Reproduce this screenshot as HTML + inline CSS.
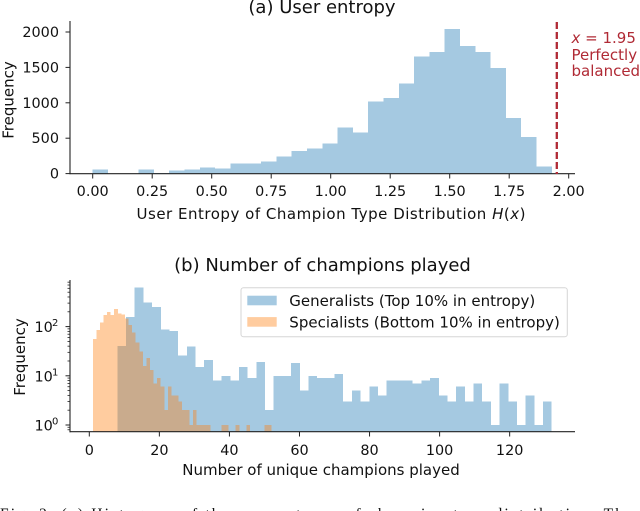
<!DOCTYPE html>
<html lang="en">
<head>
<meta charset="utf-8">
<title>Entropy histograms</title>
<style>
  html, body { margin: 0; padding: 0; background: #fff; }
  body { width: 640px; height: 511px; overflow: hidden; }
  svg { display: block; }
  text { font-family: "DejaVu Sans", "Liberation Sans", sans-serif; fill: #111; }
</style>
</head>
<body>
<svg id="figure" xmlns="http://www.w3.org/2000/svg" width="640" height="511" viewBox="0 0 640 511">
  <g id="panel-a"></g>
  <g id="panel-b"></g>
  <text x="0" y="519" textLength="632" lengthAdjust="spacing" style="font-family:'Liberation Serif',serif;font-size:15.5px;">Fig. 2: (a) Histogram of the user entropy of champion type distribution. The</text>
</svg>
<script>
// Panel (a) data
const entropyBinStart = 0;
const entropyBinWidth = 0.0643;
const entropyCounts = [60, 0, 0, 60, 5, 47, 60, 85, 75, 141, 146, 170, 245, 320, 353, 428, 650, 579, 1021, 1069, 1276, 1652, 1714, 2039, 1799, 1719, 1488, 786, 518, 99];
const entropyXTicks = [0, 0.25, 0.5, 0.75, 1, 1.25, 1.5, 1.75, 2];
const entropyYTicks = [0, 500, 1000, 1500, 2000];
const balancedEntropy = 1.95;

// Panel (b) data
const championBinStartBlue = 8;
const championBinWidthBlue = 2.48;
const generalistCounts = [40, 158, 617, 312, 253, 88, 81, 26, 39, 15, 21, 8, 10, 8, 15, 9, 19, 2, 10, 10, 18, 5, 10, 9, 9, 11, 3, 5, 3, 6, 4, 8, 8, 8, 7, 8, 9, 4, 3, 6, 3, 7, 3, 1, 7, 3, 1, 4, 1, 3];
const championBinStartOrange = 1;
const championBinWidthOrange = 1.02;
const specialistCounts = [56, 85, 122, 172, 198, 172, 228, 186, 175, 147, 108, 76, 47, 31, 16, 23, 13, 7, 9, 6, 2, 6, 4, 4, 3, 2, 2, 1, 2, 1, 1, 1, 1, 0, 0, 0, 1, 1, 0, 0, 1, 0, 0, 1, 0, 0, 0, 0, 1, 1];
const championXTicks = [0, 20, 40, 60, 80, 100, 120];
const championYDecades = [0, 1, 2];
const championMinorMultipliers = [2, 3, 4, 5, 6, 7, 8, 9];
const legendLabels = ["Generalists (Top 10% in entropy)", "Specialists (Bottom 10% in entropy)"];

const NS = "http://www.w3.org/2000/svg";
const TICK_FONT = 14.4;
const LABEL_FONT = 15;
const TITLE_FONT = 18;
const BLUE = "#1f77b4";
const ORANGE = "#ff7f0e";
const INK = "#222";
const RED = "#b02a35";

function make(tag, parent) {
  const el = document.createElementNS(NS, tag);
  parent.appendChild(el);
  return el;
}
function setAll(el, props) {
  for (const k in props) el.setAttribute(k, props[k]);
  return el;
}
function makeLine(parent, x1, y1, x2, y2, width) {
  const el = make("line", parent);
  return setAll(el, { x1: x1, y1: y1, x2: x2, y2: y2, stroke: INK, "stroke-width": width });
}
function makeText(parent, x, y, str, size, anchor) {
  const el = make("text", parent);
  setAll(el, { x: x, y: y, "font-size": size, "text-anchor": anchor || "middle" });
  el.textContent = str;
  return el;
}

// ---------- Panel (a) ----------
const panelA = document.getElementById("panel-a");
const ax = v => 92.7 + 238 * v;
const ay = v => 173.6 - 0.0708 * v;

entropyCounts.forEach((c, i) => {
  if (c <= 0) return;
  const x0 = ax(entropyBinStart + i * entropyBinWidth);
  const x1 = ax(entropyBinStart + (i + 1) * entropyBinWidth);
  const r = make("rect", panelA);
  
  
  setAll(r, { x: x0, y: ay(c), width: x1 - x0, height: ay(0) - ay(c), fill: BLUE, "fill-opacity": 0.4, "shape-rendering": "crispEdges" });
});

const aLeft = makeLine(panelA, 70, 21, 70, 174.1, 1.1);


const aBottom = makeLine(panelA, 69.5, 173.7, 575, 173.7, 1.1);



entropyXTicks.forEach(v => {
  const t = makeLine(panelA, ax(v), 174, ax(v), 178.5, 1);
  
  
  const l = makeText(panelA, ax(v), 196, v.toFixed(2), TICK_FONT);
  
  
});
entropyYTicks.forEach(v => {
  const t = makeLine(panelA, 65.5, ay(v), 70, ay(v), 1);
  
  
  const l = makeText(panelA, 59, ay(v) + 5, String(v), TICK_FONT, "end");
  
  
});

const redLine = make("line", panelA);


setAll(redLine, { x1: ax(balancedEntropy), x2: ax(balancedEntropy), y1: 22, y2: 174, stroke: RED, "stroke-width": 2.3, "stroke-dasharray": "7 3" });

const note1 = makeText(panelA, 571.5, 43, "", LABEL_FONT, "start");


note1.style.fill = RED;
const noteX = make("tspan", note1);
noteX.setAttribute("font-style", "italic");
noteX.textContent = "x";
const noteRest = make("tspan", note1);
noteRest.textContent = " = " + balancedEntropy.toFixed(2);
const note2 = makeText(panelA, 571.5, 60, "Perfectly", LABEL_FONT, "start");


note2.style.fill = RED;
const note3 = makeText(panelA, 571.5, 76, "balanced", LABEL_FONT, "start");


note3.style.fill = RED;

const aTitle = makeText(panelA, 322, 13, "(a) User entropy", TITLE_FONT);



const aXLabel = makeText(panelA, 331, 219, "", LABEL_FONT);


aXLabel.setAttribute("textLength", "389");
aXLabel.setAttribute("lengthAdjust", "spacing");
const ax1 = make("tspan", aXLabel);
ax1.textContent = "User Entropy of Champion Type Distribution ";
const ax2 = make("tspan", aXLabel);
ax2.setAttribute("font-style", "italic");
ax2.textContent = "H";
const ax3 = make("tspan", aXLabel);
ax3.textContent = "(";
const ax4 = make("tspan", aXLabel);
ax4.setAttribute("font-style", "italic");
ax4.textContent = "x";
const ax5 = make("tspan", aXLabel);
ax5.textContent = ")";

const aYLabel = makeText(panelA, 0, 0, "Frequency", LABEL_FONT);


aYLabel.setAttribute("transform", "translate(13.5 100) rotate(-90)");

// ---------- Panel (b) ----------
const panelB = document.getElementById("panel-b");
const bx = v => 89.3 + 3.503 * v;
const by = v => 425 - 49.2 * Math.log10(v);
const bBase = 431.7;

generalistCounts.forEach((c, i) => {
  if (c <= 0) return;
  const x0 = bx(championBinStartBlue + i * championBinWidthBlue);
  const x1 = bx(championBinStartBlue + (i + 1) * championBinWidthBlue);
  const r = make("rect", panelB);
  
  
  setAll(r, { x: x0, y: by(c), width: x1 - x0, height: bBase - by(c), fill: BLUE, "fill-opacity": 0.4, "shape-rendering": "crispEdges" });
});
specialistCounts.forEach((c, i) => {
  if (c <= 0) return;
  const x0 = bx(championBinStartOrange + i * championBinWidthOrange);
  const x1 = bx(championBinStartOrange + (i + 1) * championBinWidthOrange);
  const r = make("rect", panelB);
  
  
  setAll(r, { x: x0, y: by(c), width: x1 - x0, height: bBase - by(c), fill: ORANGE, "fill-opacity": 0.4, "shape-rendering": "crispEdges" });
});

const bLeft = makeLine(panelB, 70, 280, 70, 432.2, 1.1);


const bBottom = makeLine(panelB, 69.5, bBase, 575, bBase, 1.1);



championXTicks.forEach(v => {
  const t = makeLine(panelB, bx(v), 432, bx(v), 436.5, 1);
  
  
  const l = makeText(panelB, bx(v), 455, String(v), TICK_FONT);
  
  
});
championYDecades.forEach(d => {
  const v = Math.pow(10, d);
  const t = makeLine(panelB, 65.5, by(v), 70, by(v), 1);
  
  
  const l = makeText(panelB, 34.5, by(v) + 5.5, "10", TICK_FONT, "start");
  
  
  const s = makeText(panelB, 52, by(v) - 0.5, String(d), 10, "start");
  
  
});
[-1, 0, 1, 2].forEach(d => {
  championMinorMultipliers.forEach(m => {
    const y = by(m * Math.pow(10, d));
    if (y < 280 || y > bBase) return;
    const t = makeLine(panelB, 67.5, y, 70, y, 0.8);
    
    
  });
});

const bTitle = makeText(panelB, 322.5, 271, "(b) Number of champions played", TITLE_FONT);


const bXLabel = makeText(panelB, 321, 475, "Number of unique champions played", LABEL_FONT);


const bYLabel = makeText(panelB, 0, 0, "Frequency", LABEL_FONT);


bYLabel.setAttribute("transform", "translate(25 357) rotate(-90)");

// Legend
const legend = make("g", panelB);


const legendBox = make("rect", legend);


setAll(legendBox, { x: 241, y: 287.7, width: 326.3, height: 49, rx: 2.5, fill: "#fff", "fill-opacity": 0.8, stroke: "#d6d6d6", "stroke-width": 1 });
legendLabels.forEach((label, i) => {
  const y = 295.7 + i * 21.4;
  const sw = make("rect", legend);
  
  
  setAll(sw, { x: 247.3, y: y, width: 29.4, height: 9.6, fill: i === 0 ? BLUE : ORANGE, "fill-opacity": 0.4 });
  const tx = makeText(legend, 289.3, y + 10.3, label, LABEL_FONT, "start");
  
  
});
</script>
</body>
</html>
